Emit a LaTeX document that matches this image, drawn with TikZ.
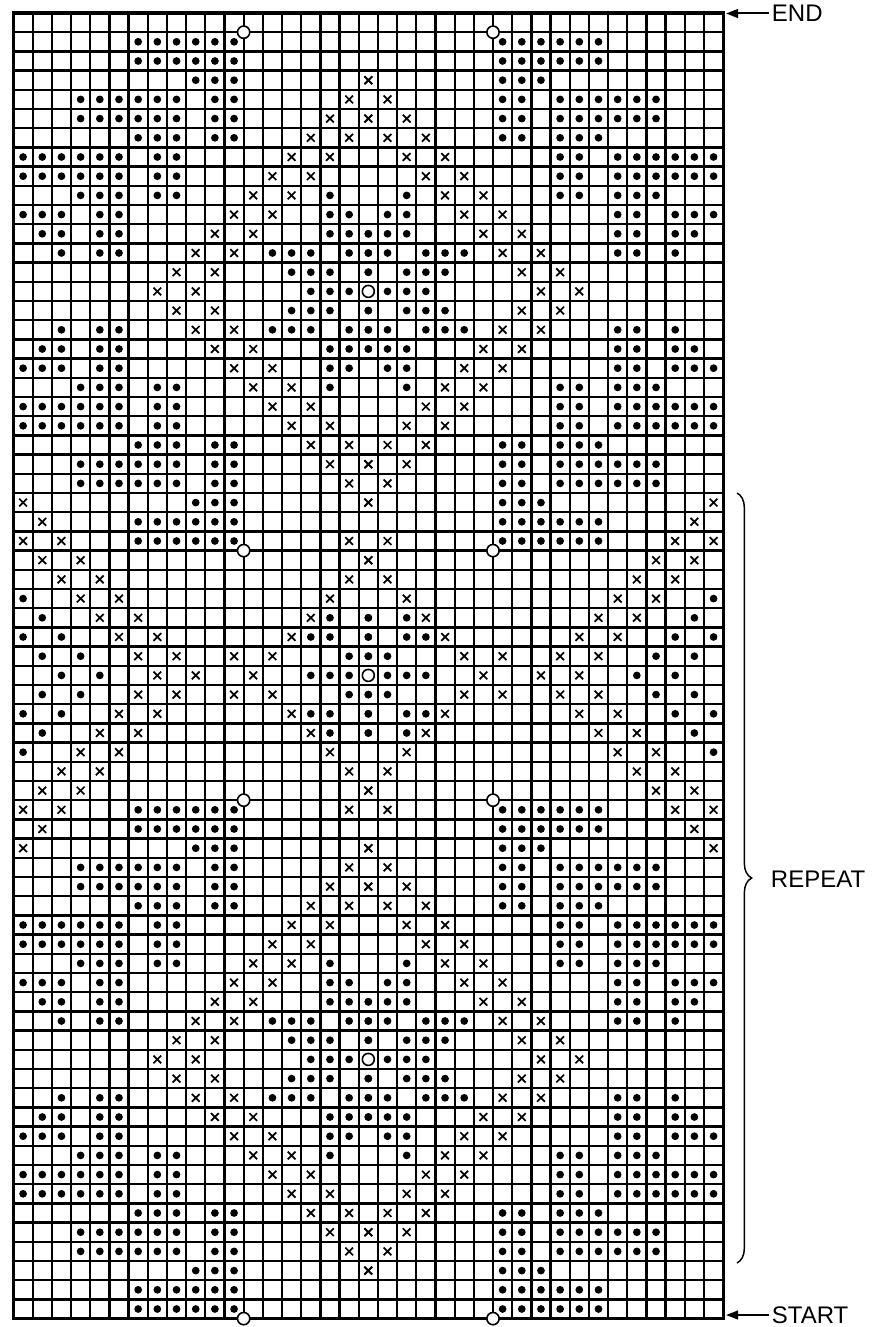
\documentclass[tikz,border=0pt]{standalone}
\usepackage{fontspec}
\setmainfont{Liberation Sans}
\usetikzlibrary{arrows.meta, decorations.pathreplacing}

% one stitch symbol and its mirror image (chart is symmetric about column 18)
\newcommand{\dotcell}[2]{%
  \fill ({#1+0.5},{#2-0.5}) circle (2.9pt);
  \fill ({36.5-#1},{#2-0.5}) circle (2.9pt);}
\newcommand{\crosscell}[2]{%
  \foreach \xc in {#1+0.5,36.5-#1}
    \draw[stitchx] ({\xc},{#2-0.5}) +(-2.9pt,-2.9pt) -- +(2.9pt,2.9pt)
                                   +(-2.9pt,2.9pt) -- +(2.9pt,-2.9pt);}

\begin{document}
\begin{tikzpicture}[x=0.75pt, y=-0.75pt,
  cellline/.style={line width=1.7pt},
  outline/.style={line width=2.4pt},
  stitchx/.style={line width=1.3pt},
  holering/.style={draw, fill=white, line width=1.2pt},
  arr/.style={-{Triangle[length=9pt, width=6.5pt]}, line width=1.5pt},
  lbl/.style={font=\fontsize{18}{22}\selectfont, inner xsep=2pt,
              inner ysep=0pt, anchor=west},
  bracket/.style={decorate, decoration={brace, amplitude=11pt}, line width=1.1pt}
]
  \useasboundingbox (0,0) rectangle (877,1327);

  % chart: 37 stitches x 68 rows, one unit per cell
  \begin{scope}[shift={(13.5,13)}, x=14.385pt, y=-14.4pt]
    \foreach \c in {1,...,36} \draw[cellline] (\c,0) -- (\c,68);
    \foreach \r in {1,...,67} \draw[cellline] (0,\r) -- (37,\r);
    \draw[outline] (0,0) rectangle (37,68);

    % diamond motif, rows 5-25 and again 40 rows lower
    \foreach \o in {0,40}{
      \foreach \r/\cs in {5/{3,4,5,6,7,8,10,11}, 6/{3,4,5,6,7,8,10,11},
          7/{6,7,8,10,11}, 8/{0,1,2,3,4,5,7,8}, 9/{0,1,2,3,4,5,7,8},
          10/{3,4,5,7,8,16}, 11/{0,1,2,4,5,16,17}, 12/{1,2,4,5,16,17,18},
          13/{2,4,5,13,14,15,17,18}, 14/{14,15,16,18}, 15/{15,16,17},
          16/{14,15,16,18}, 17/{2,4,5,13,14,15,17,18}, 18/{1,2,4,5,16,17,18},
          19/{0,1,2,4,5,16,17}, 20/{3,4,5,7,8,16}, 21/{0,1,2,3,4,5,7,8},
          22/{0,1,2,3,4,5,7,8}, 23/{6,7,8,10,11}, 24/{3,4,5,6,7,8,10,11},
          25/{3,4,5,6,7,8,10,11}}
        \foreach \c in \cs {\dotcell{\c}{\r+\o}}
      \foreach \r/\cs in {5/{17}, 6/{16,18}, 7/{15,17}, 8/{14,16}, 9/{13,15},
          10/{12,14}, 11/{11,13}, 12/{10,12}, 13/{9,11}, 14/{8,10}, 15/{7,9},
          16/{8,10}, 17/{9,11}, 18/{10,12}, 19/{11,13}, 20/{12,14},
          21/{13,15}, 22/{14,16}, 23/{15,17}, 24/{16,18}, 25/{17}}
        \foreach \c in \cs {\crosscell{\c}{\r+\o}}
      \draw[holering] (18.5,{14.5+\o}) circle (4.5pt);
    }

    % end blocks
    \foreach \r in {2,3,27,28,42,43,67,68}
      \foreach \c in {6,...,11} {\dotcell{\c}{\r}}
    \foreach \r in {4,26,44,66}
      \foreach \c in {9,10,11} {\dotcell{\c}{\r}}

    % lattice between the motifs
    \foreach \r/\cs in {31/{0}, 32/{1,16,18}, 33/{0,2,15,16,18},
        34/{1,3,17,18}, 35/{2,4,15,16,17}, 36/{1,3,17,18},
        37/{0,2,15,16,18}, 38/{1,16,18}, 39/{0}}
      \foreach \c in \cs {\dotcell{\c}{\r}}
    \foreach \r/\cs in {4/{18}, 26/{0,18}, 27/{1}, 28/{0,2,17}, 29/{1,3,18},
        30/{2,4,17}, 31/{3,5,16}, 32/{4,6,15}, 33/{5,7,14}, 34/{6,8,11,13},
        35/{7,9,12}, 36/{6,8,11,13}, 37/{5,7,14}, 38/{4,6,15}, 39/{3,5,16},
        40/{2,4,17}, 41/{1,3,18}, 42/{0,2,17}, 43/{1}, 44/{0,18}, 66/{18}}
      \foreach \c in \cs {\crosscell{\c}{\r}}
    \draw[holering] (18.5,34.5) circle (4.5pt);

    % rings on the grid corners
    \foreach \rb in {1,28,41,68}
      \foreach \cb in {12,25}
        \draw[holering] (\cb,\rb) circle (4.6pt);
  \end{scope}

  \coordinate (endtip) at (726,13.5);
  \coordinate (starttip) at (726,1315);
  \coordinate (rpttop) at (737,493);
  \coordinate (rptbot) at (737,1263);

  \node[lbl] (endlbl)   at (769,13.5) {END};
  \node[lbl] (startlbl) at (769,1315) {START};
  \node[lbl] (rptlbl)   at (768,879)  {REPEAT};

  \draw[arr] (endlbl) -- (endtip);
  \draw[arr] (startlbl) -- (starttip);
  \draw[bracket] (rpttop) -- (rptbot);
\end{tikzpicture}
\end{document}
